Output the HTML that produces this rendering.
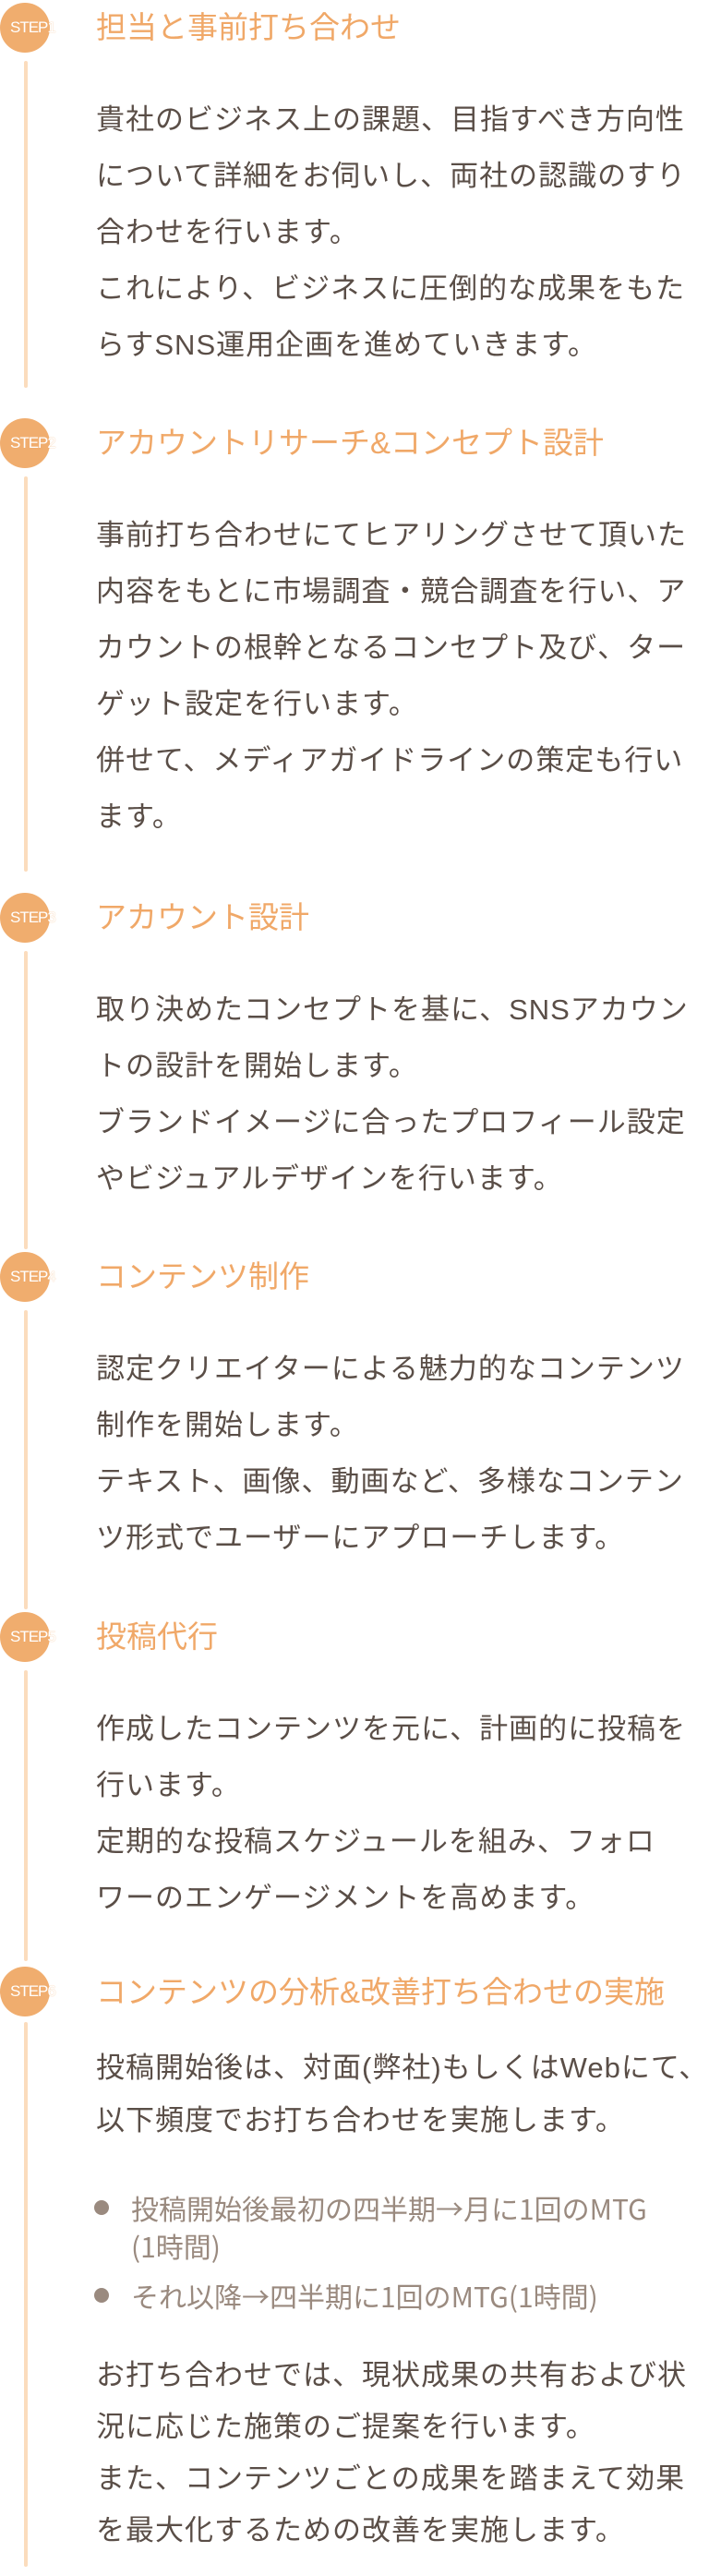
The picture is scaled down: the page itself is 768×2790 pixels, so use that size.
<!DOCTYPE html>
<html><head><meta charset="utf-8"><style>
html,body{margin:0;padding:0;background:#fff;}
body{width:768px;height:2790px;position:relative;overflow:hidden;font-family:"Liberation Sans","Noto Sans CJK JP",sans-serif;}
.c{position:absolute;left:0;width:54px;height:54px;border-radius:50%;background:#f0ad6e;}
.s{position:absolute;left:11px;font-size:17px;line-height:20px;color:#fff;white-space:nowrap;letter-spacing:-1px;text-shadow:0 0 1px #f0ad6e;}
.ln{position:absolute;left:26px;width:4px;background:#fbdcbd;border-radius:2px;}
.t{position:absolute;left:104px;font-size:33px;line-height:40px;color:#f0a868;white-space:nowrap;}
.b{position:absolute;left:104px;font-size:31px;line-height:40px;color:#5a4e47;white-space:nowrap;letter-spacing:1px;}
.u{position:absolute;left:142px;font-size:30px;line-height:36px;color:#9a8a7f;white-space:nowrap;font-family:"Noto Sans CJK JP",sans-serif;}
.d{position:absolute;left:102px;width:16px;height:16px;border-radius:50%;background:#9a8a7f;}
</style></head><body>
<div class="ln" style="top:66px;height:354px"></div>
<div class="ln" style="top:516px;height:428px"></div>
<div class="ln" style="top:1030px;height:323px"></div>
<div class="ln" style="top:1419px;height:324px"></div>
<div class="ln" style="top:1809px;height:315px"></div>
<div class="ln" style="top:2190px;height:590px"></div>

<div class="c" style="top:3px"></div><div class="s" style="top:20px">STEP1</div>
<div class="t" style="top:10px">担当と事前打ち合わせ</div>
<div class="b" style="top:110px">貴社のビジネス上の課題、目指すべき方向性</div>
<div class="b" style="top:171px">について詳細をお伺いし、両社の認識のすり</div>
<div class="b" style="top:232px">合わせを行います。</div>
<div class="b" style="top:293px">これにより、ビジネスに圧倒的な成果をもた</div>
<div class="b" style="top:354px">らすSNS運用企画を進めていきます。</div>

<div class="c" style="top:453px"></div><div class="s" style="top:470px">STEP2</div>
<div class="t" style="top:460px">アカウントリサーチ&amp;コンセプト設計</div>
<div class="b" style="top:560px">事前打ち合わせにてヒアリングさせて頂いた</div>
<div class="b" style="top:621px">内容をもとに市場調査・競合調査を行い、ア</div>
<div class="b" style="top:682px">カウントの根幹となるコンセプト及び、ター</div>
<div class="b" style="top:743px">ゲット設定を行います。</div>
<div class="b" style="top:804px">併せて、メディアガイドラインの策定も行い</div>
<div class="b" style="top:865px">ます。</div>

<div class="c" style="top:967px"></div><div class="s" style="top:984px">STEP3</div>
<div class="t" style="top:974px">アカウント設計</div>
<div class="b" style="top:1074px">取り決めたコンセプトを基に、SNSアカウン</div>
<div class="b" style="top:1135px">トの設計を開始します。</div>
<div class="b" style="top:1196px">ブランドイメージに合ったプロフィール設定</div>
<div class="b" style="top:1257px">やビジュアルデザインを行います。</div>

<div class="c" style="top:1356px"></div><div class="s" style="top:1373px">STEP4</div>
<div class="t" style="top:1363px">コンテンツ制作</div>
<div class="b" style="top:1463px">認定クリエイターによる魅力的なコンテンツ</div>
<div class="b" style="top:1524px">制作を開始します。</div>
<div class="b" style="top:1585px">テキスト、画像、動画など、多様なコンテン</div>
<div class="b" style="top:1646px">ツ形式でユーザーにアプローチします。</div>

<div class="c" style="top:1746px"></div><div class="s" style="top:1763px">STEP5</div>
<div class="t" style="top:1753px">投稿代行</div>
<div class="b" style="top:1853px">作成したコンテンツを元に、計画的に投稿を</div>
<div class="b" style="top:1914px">行います。</div>
<div class="b" style="top:1975px">定期的な投稿スケジュールを組み、フォロ</div>
<div class="b" style="top:2036px">ワーのエンゲージメントを高めます。</div>

<div class="c" style="top:2130px"></div><div class="s" style="top:2147px">STEP6</div>
<div class="t" style="top:2138px">コンテンツの分析&amp;改善打ち合わせの実施</div>
<div class="b" style="top:2220px">投稿開始後は、対面(弊社)もしくはWebにて、</div>
<div class="b" style="top:2277px">以下頻度でお打ち合わせを実施します。</div>
<div class="d" style="top:2383px"></div>
<div class="u" style="top:2373px">投稿開始後最初の四半期→月に1回のMTG</div>
<div class="u" style="top:2414px">(1時間)</div>
<div class="d" style="top:2478px"></div>
<div class="u" style="top:2468px">それ以降→四半期に1回のMTG(1時間)</div>
<div class="b" style="top:2553px">お打ち合わせでは、現状成果の共有および状</div>
<div class="b" style="top:2609px">況に応じた施策のご提案を行います。</div>
<div class="b" style="top:2665px">また、コンテンツごとの成果を踏まえて効果</div>
<div class="b" style="top:2721px">を最大化するための改善を実施します。</div>
</body></html>
